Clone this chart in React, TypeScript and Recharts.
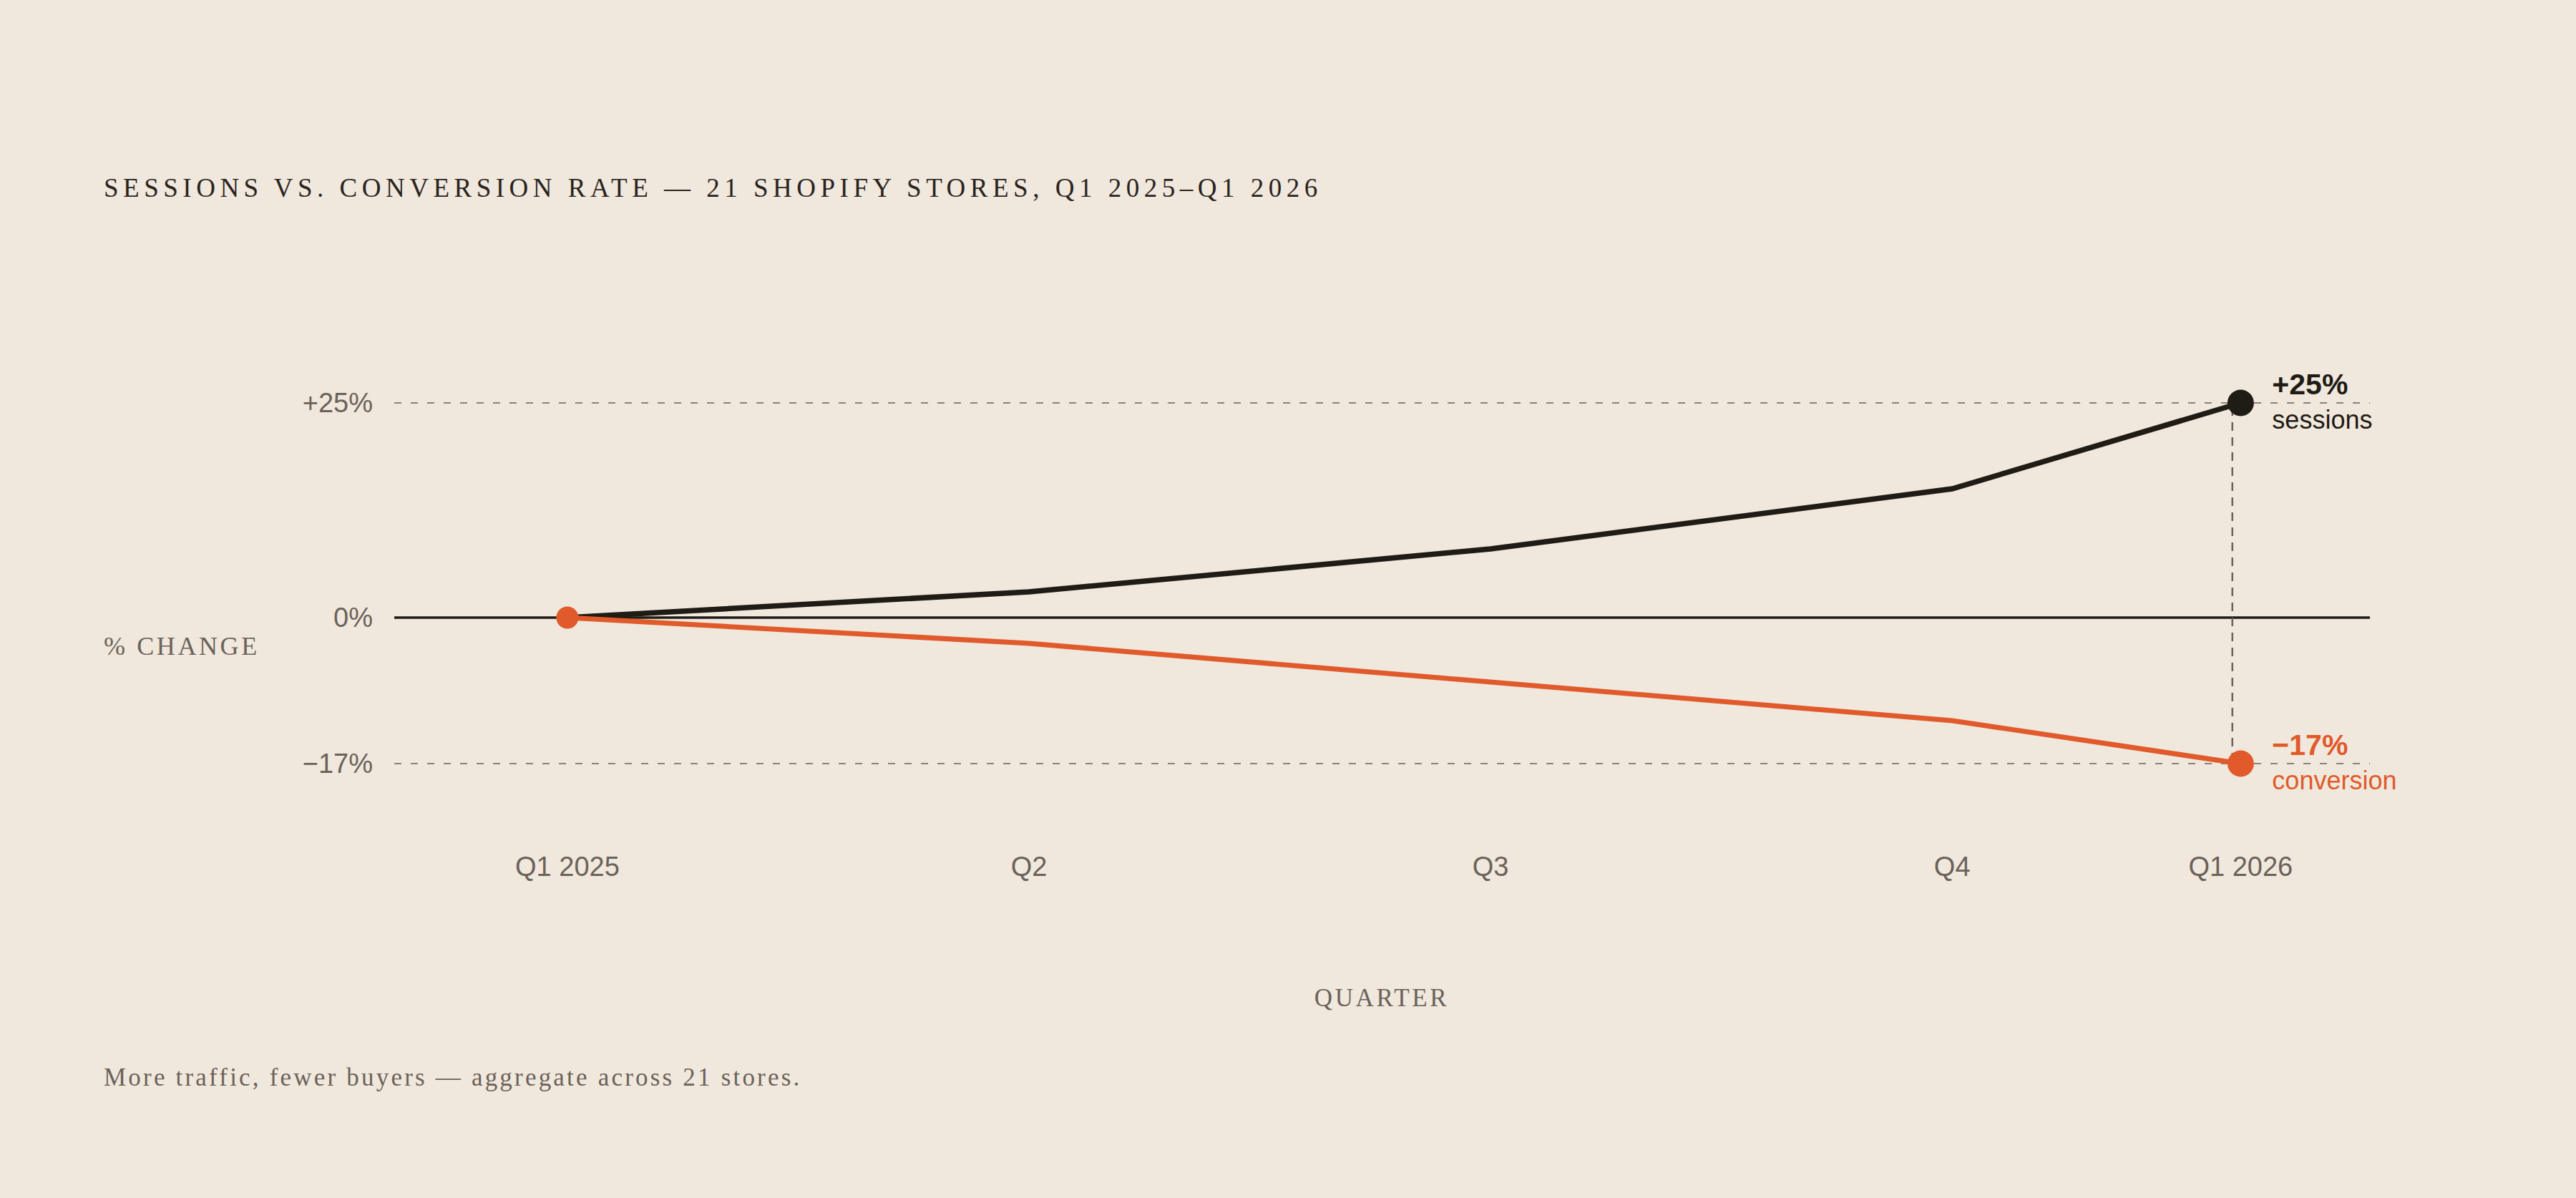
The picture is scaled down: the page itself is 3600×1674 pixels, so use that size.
import React from 'react';
import { LineChart, Line, XAxis, YAxis, ReferenceLine } from 'recharts';

const quarterLabels = ['Q1 2025', 'Q2', 'Q3', 'Q4', 'Q1 2026'];
const quarterPos = [0, 1, 2, 3, 3.625];
const sessionsPct = [0, 3, 8, 15, 25];
const conversionPct = [0, -3, -7.5, -12, -17];
const yTicks = [25, 0, -17];
const yTickLabels = ['+25%', '0%', '−17%'];
const endLabels = { sessions: ['+25%', 'sessions'], conversion: ['−17%', 'conversion'] };
const dropLineX = 3.607;
const dropLineFrom = 24.5;
const dropLineTo = -16;

const data = quarterPos.map((x, i) => ({
  x,
  label: quarterLabels[i],
  sessions: sessionsPct[i],
  conversion: conversionPct[i],
}));

const BG = '#f0e8dc';
const INK = '#1f1b15';
const ORANGE = '#e05a2b';
const MUTED = '#6b625a';
const GRID = '#8a8279';
const SANS = '"Liberation Sans", Arial, sans-serif';
const SERIF = '"Liberation Serif", "DejaVu Serif", serif';

const makeDot = (key: 'sessions' | 'conversion', color: string) => (props: any) => {
  const { cx, cy, index } = props;
  const last = data.length - 1;
  if (index === last) {
    const [big, small] = endLabels[key];
    return (
      <g key={`${key}-dot-${index}`}>
        <circle cx={cx} cy={cy} r={18.5} fill={color} />
        <text x={cx + 44} y={cy - 12} fill={color} fontFamily={SANS} fontWeight={700} fontSize={41}>
          {big}
        </text>
        <text x={cx + 44} y={cy + 36} fill={color} fontFamily={SANS} fontSize={36}>
          {small}
        </text>
      </g>
    );
  }
  if (key === 'conversion' && index === 0) {
    return <circle key={`${key}-dot-${index}`} cx={cx} cy={cy} r={15.5} fill={color} />;
  }
  return <g key={`${key}-dot-${index}`} />;
};

export default function App() {
  return (
    <div
      style={{
        position: 'absolute',
        left: 0,
        top: 0,
        width: 3600,
        height: 1674,
        background: BG,
        overflow: 'hidden',
      }}
    >
      <svg
        width={3600}
        height={1674}
        style={{ position: 'absolute', left: 0, top: 0 }}
      >
        <text x={145} y={275} fill="#2a241e" fontFamily={SERIF} fontSize={37} letterSpacing={6.5}>
          SESSIONS VS. CONVERSION RATE — 21 SHOPIFY STORES, Q1 2025–Q1 2026
        </text>
        <text x={145} y={915} fill={MUTED} fontFamily={SERIF} fontSize={36} letterSpacing={3.6}>
          % CHANGE
        </text>
        <text x={1931} y={1406} fill={MUTED} fontFamily={SERIF} fontSize={35} letterSpacing={3.6} textAnchor="middle">
          QUARTER
        </text>
        <text x={145} y={1517} fill={MUTED} fontFamily={SERIF} fontSize={35} letterSpacing={3.2}>
          More traffic, fewer buyers — aggregate across 21 stores.
        </text>
      </svg>
      <div style={{ position: 'absolute', left: 0, top: 0 }}>
        <LineChart
          width={3600}
          height={1674}
          data={data}
          margin={{ top: 443, right: 288, bottom: 427, left: 451 }}
        >
          <XAxis
            dataKey="x"
            type="number"
            domain={[-0.375, 3.905]}
            ticks={quarterPos}
            tickFormatter={(v: number) => quarterLabels[quarterPos.indexOf(v)] ?? ''}
            axisLine={false}
            tickLine={false}
            tickSize={0}
            tickMargin={10}
            height={60}
            interval={0}
            tick={{ fill: MUTED, fontSize: 38, fontFamily: SANS }}
          />
          <YAxis
            type="number"
            domain={[-27, 35]}
            ticks={yTicks}
            tickFormatter={(v: number) => yTickLabels[yTicks.indexOf(v)] ?? ''}
            axisLine={false}
            tickLine={false}
            tickSize={0}
            tickMargin={30}
            width={100}
            interval={0}
            tick={{ fill: MUTED, fontSize: 38, fontFamily: SANS }}
          />
          <ReferenceLine y={25} stroke={GRID} strokeWidth={2} strokeDasharray="10 13" />
          <ReferenceLine y={-17} stroke={GRID} strokeWidth={2} strokeDasharray="10 13" />
          <ReferenceLine y={0} stroke={INK} strokeWidth={3.5} />
          <ReferenceLine
            segment={[
              { x: dropLineX, y: dropLineFrom },
              { x: dropLineX, y: dropLineTo },
            ]}
            stroke={MUTED}
            strokeWidth={2.5}
            strokeDasharray="12 9"
          />
          <Line
            dataKey="sessions"
            type="linear"
            stroke={INK}
            strokeWidth={7.5}
            dot={makeDot('sessions', INK)}
            activeDot={false}
            isAnimationActive={false}
          />
          <Line
            dataKey="conversion"
            type="linear"
            stroke={ORANGE}
            strokeWidth={7}
            dot={makeDot('conversion', ORANGE)}
            activeDot={false}
            isAnimationActive={false}
          />
        </LineChart>
      </div>
    </div>
  );
}
